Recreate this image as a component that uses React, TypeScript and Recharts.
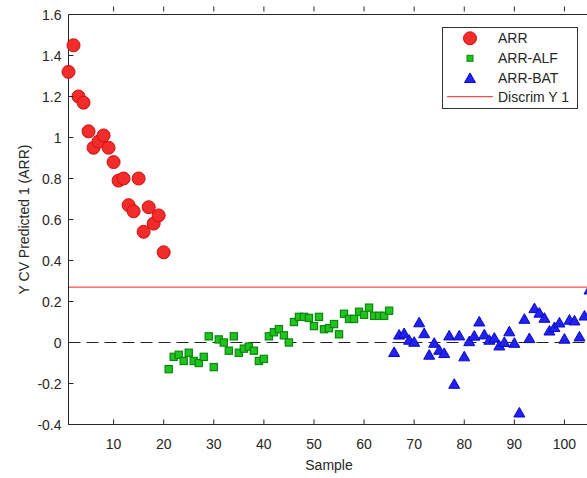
import { ScatterChart, Scatter, XAxis, YAxis, ReferenceLine, Legend } from 'recharts';

// Y CV predicted values
const arrValues = [1.32, 1.45, 1.2, 1.17, 1.03, 0.95, 0.98, 1.01, 0.95, 0.88, 0.79, 0.8, 0.67, 0.64, 0.8, 0.54, 0.66, 0.58, 0.62, 0.44];
const alfValues = [
  -0.13, -0.07, -0.06, -0.09, -0.05, -0.09, -0.1, -0.07, 0.03, -0.12,
  0.015, 0.0, -0.04, 0.03, -0.05, -0.03, -0.02, -0.04, -0.09, -0.08,
  0.03, 0.05, 0.065, 0.035, 0.0, 0.1, 0.125, 0.125, 0.12, 0.08,
  0.125, 0.065, 0.07, 0.09, 0.04, 0.14, 0.115, 0.115, 0.15, 0.135,
  0.17, 0.13, 0.13, 0.13, 0.155,
];
const batValues = [
  -0.045, 0.04, 0.047, 0.015, 0.005, 0.1, 0.047, -0.058, 0.0, -0.034,
  -0.05, 0.036, -0.2, 0.036, -0.066, 0.008, 0.035, 0.104, 0.041, 0.015,
  0.025, -0.013, 0.004, 0.056, 0.0, -0.34, 0.117, 0.023, 0.169, 0.147,
  0.122, 0.06, 0.077, 0.099, 0.02, 0.113, 0.109, 0.031, 0.133, 0.26,
];
const arrStart = 1;
const alfStart = 21;
const batStart = 66;
const discrimY = 0.27;

const xDomain = [1, 105];
const yDomain = [-0.4, 1.6];
const xTicks = [10, 20, 30, 40, 50, 60, 70, 80, 90, 100];
const yTicks = [-0.4, -0.2, 0, 0.2, 0.4, 0.6, 0.8, 1, 1.2, 1.4, 1.6];

const toPoints = (values: number[], start: number) => values.map((y, i) => ({ x: start + i, y }));

const arrData = toPoints(arrValues, arrStart);
const alfData = toPoints(alfValues, alfStart);
const batData = toPoints(batValues, batStart);

const FONT = '"Liberation Sans", Arial, Helvetica, sans-serif';
const AXIS = '#262626';
const TICK_LEN = 5;

const RED = { fill: '#f22b2b', stroke: '#d01010' };
const GREEN = { fill: '#20c420', stroke: '#0b870b' };
const BLUE = { fill: '#2121f0', stroke: '#0b0bc0' };

const Circle = (p: any) => <circle cx={p.cx} cy={p.cy} r={6.5} fill={RED.fill} stroke={RED.stroke} strokeWidth={1} />;
const Square = (p: any) => (
  <rect x={p.cx - 3.6} y={p.cy - 3.6} width={7.2} height={7.2} fill={GREEN.fill} stroke={GREEN.stroke} strokeWidth={1.2} />
);
const Triangle = (p: any) => (
  <polygon
    points={`${p.cx - 5.5},${p.cy + 4.8} ${p.cx + 5.5},${p.cy + 4.8} ${p.cx},${p.cy - 4.8}`}
    fill={BLUE.fill}
    stroke={BLUE.stroke}
    strokeWidth={1}
  />
);

const fmt = (v: number) => String(Number(v.toFixed(1)));

// inward ticks, matlab style
const BottomTick = (p: any) => (
  <g>
    <line x1={p.x} x2={p.x} y1={p.y - 14} y2={p.y - 14 - TICK_LEN} stroke={AXIS} />
    <text x={p.x} y={p.y + 10} textAnchor="middle" fontSize={14} fontFamily={FONT} fill={AXIS}>
      {p.payload.value}
    </text>
  </g>
);
const LeftTick = (p: any) => (
  <g>
    <line x1={p.x + 7} x2={p.x + 7 + TICK_LEN} y1={p.y} y2={p.y} stroke={AXIS} />
    <text x={p.x} y={p.y + 5} textAnchor="end" fontSize={14} fontFamily={FONT} fill={AXIS}>
      {fmt(p.payload.value)}
    </text>
  </g>
);
const TopTick = (p: any) => <line x1={p.x} x2={p.x} y1={p.y} y2={p.y + TICK_LEN} stroke={AXIS} />;
const RightTick = (p: any) => <line x1={p.x - TICK_LEN} x2={p.x} y1={p.y} y2={p.y} stroke={AXIS} />;

const LegendBox = () => {
  const rows = [11.3, 31.3, 50.7, 69.7];
  const labels = ['ARR', 'ARR-ALF', 'ARR-BAT', 'Discrim Y 1'];
  return (
    <svg width={137} height={83} style={{ display: 'block' }}>
      <rect x={0.5} y={0.5} width={135} height={81} fill="#fff" stroke="#333" strokeWidth={1} />
      <circle cx={28} cy={rows[0]} r={6.5} fill={RED.fill} stroke={RED.stroke} />
      <rect x={25} y={rows[1] - 3} width={6} height={6} fill={GREEN.fill} stroke={GREEN.stroke} />
      <polygon
        points={`${22.5},${rows[2] + 4.8} ${33.5},${rows[2] + 4.8} ${28},${rows[2] - 4.8}`}
        fill={BLUE.fill}
        stroke={BLUE.stroke}
      />
      <line x1={5} x2={51} y1={rows[3]} y2={rows[3]} stroke="#ff2020" strokeWidth={1} />
      {labels.map((t, i) => (
        <text key={t} x={56} y={rows[i] + 5} fontSize={14} fontFamily={FONT} fill={AXIS}>
          {t}
        </text>
      ))}
    </svg>
  );
};

export default function App() {
  return (
    <div style={{ position: 'absolute', left: 0, top: 0, width: 587, height: 478, overflow: 'hidden', background: '#fff' }}>
      <ScatterChart width={600} height={478} margin={{ top: 0, right: 0, bottom: 0, left: 0 }}>
        <XAxis
          xAxisId="bottom"
          type="number"
          dataKey="x"
          domain={xDomain}
          ticks={xTicks}
          height={53.5}
          stroke={AXIS}
          tickLine={false}
          tickSize={0}
          tickMargin={14}
          tick={BottomTick}
          label={{ value: 'Sample', position: 'insideBottom', offset: 8, fill: AXIS, fontSize: 14, fontFamily: FONT }}
        />
        <XAxis
          xAxisId="top"
          orientation="top"
          type="number"
          dataKey="x"
          domain={xDomain}
          ticks={xTicks}
          height={14.5}
          stroke={AXIS}
          tickLine={false}
          tick={TopTick}
        />
        <YAxis
          yAxisId="left"
          type="number"
          dataKey="y"
          domain={yDomain}
          ticks={yTicks}
          width={68.5}
          stroke={AXIS}
          tickLine={false}
          tickSize={0}
          tickMargin={7}
          tick={LeftTick}
          label={{
            value: 'Y CV Predicted 1 (ARR)',
            angle: -90,
            position: 'insideLeft',
            offset: 24,
            fill: AXIS,
            fontSize: 14,
            fontFamily: FONT,
            style: { textAnchor: 'middle' },
          }}
        />
        <YAxis
          yAxisId="right"
          orientation="right"
          type="number"
          dataKey="y"
          domain={yDomain}
          ticks={yTicks}
          width={10.5}
          stroke={AXIS}
          tickLine={false}
          tick={RightTick}
        />
        <ReferenceLine xAxisId="bottom" yAxisId="left" y={discrimY} stroke="#ff2020" strokeWidth={1} />
        <ReferenceLine xAxisId="bottom" yAxisId="left" y={0} stroke="#222" strokeWidth={1.2} strokeDasharray="12 6" />
        {/* invisible copy so the top/right box axes get drawn */}
        <Scatter xAxisId="top" yAxisId="right" data={arrData} fill="none" isAnimationActive={false} />
        <Scatter name="ARR" xAxisId="bottom" yAxisId="left" data={arrData} shape={Circle} isAnimationActive={false} />
        <Scatter name="ARR-ALF" xAxisId="bottom" yAxisId="left" data={alfData} shape={Square} isAnimationActive={false} />
        <Scatter name="ARR-BAT" xAxisId="bottom" yAxisId="left" data={batData} shape={Triangle} isAnimationActive={false} />
        <Legend
          layout="vertical"
          align="center"
          verticalAlign="middle"
          content={() => <LegendBox />}
          wrapperStyle={{ left: 442, top: 27, width: 137, height: 83 }}
        />
      </ScatterChart>
    </div>
  );
}
